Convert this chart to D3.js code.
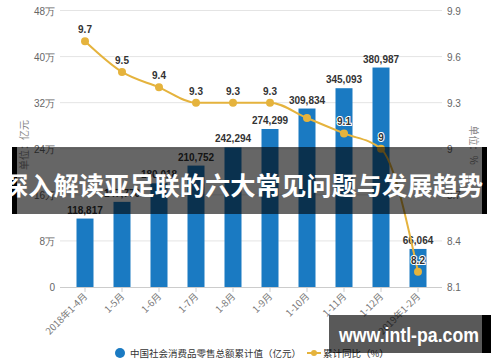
<!DOCTYPE html>
<html>
<head>
<meta charset="utf-8">
<script src="https://cdn.jsdelivr.net/npm/d3@7"></script>
<style>
  body { margin: 0; background: #fff; }
  svg { display: block; font-family: "Liberation Sans", Arial, sans-serif; }
</style>
</head>
<body>
<div id="chart"></div>
<script>
// données
var categories = ["2018年1-4月", "1-5月", "1-6月", "1-7月", "1-8月", "1-9月", "1-10月", "1-11月", "1-12月", "2019年1-2月"];
var totalValues = [118817, 147776, 180018, 210752, 242294, 274299, 309834, 345093, 380987, 66064];
var growthValues = [9.7, 9.5, 9.4, 9.3, 9.3, 9.3, 9.2, 9.1, 9.0, 8.2];
// étiquette de la 9.2 cachée sur l'original (chevauchement)
var growthShown = [true, true, true, true, true, true, false, true, true, true];
var leftTicks = [0, 80000, 160000, 240000, 320000, 400000, 480000];
var rightTicks = [8.1, 8.4, 8.7, 9.0, 9.3, 9.6, 9.9];

var width = 500, height = 362;
var barColor = "#1a7ac2", lineColor = "#e5b33d";

var svg = d3.select("#chart").append("svg")
  .attr("width", width).attr("height", height);

var x = d3.scaleBand().domain(categories).range([66.5, 436.5]).padding(0);
var yL = d3.scaleLinear().domain([0, 480000]).range([287, 10.5]);
var yR = d3.scaleLinear().domain([8.1, 9.9]).range([287, 10.5]);
var cx = d => x(d) + x.bandwidth() / 2;
var barW = 17;

// grille
svg.append("g")
  .selectAll("line")
  .data(leftTicks.slice(1))
  .join("line")
    .attr("x1", 60).attr("x2", 442)
    .attr("y1", d => yL(d)).attr("y2", d => yL(d))
    .attr("stroke", "#e4e4e4");

// axe gauche
svg.append("g")
    .attr("font-size", 10).attr("fill", "#666").attr("text-anchor", "end")
  .selectAll("text")
  .data(leftTicks)
  .join("text")
    .attr("x", 55).attr("y", d => yL(d) + 4)
    .text(d => d == 0 ? "0" : (d / 10000) + "万");

// axe droit
svg.append("g")
    .attr("font-size", 10).attr("fill", "#666")
  .selectAll("text")
  .data(rightTicks)
  .join("text")
    .attr("x", 447).attr("y", d => yR(d) + 4)
    .text(d => d3.format(".1f")(d).replace(/\.0$/, ""));

// titres des axes
svg.append("text")
  .attr("transform", "translate(28,145) rotate(-90)")
  .attr("text-anchor", "middle").attr("font-size", 10).attr("fill", "#888")
  .attr("font-family", "Noto Sans CJK SC")
  .text("单位：亿元");
svg.append("text")
  .attr("transform", "translate(470,145) rotate(90)")
  .attr("text-anchor", "middle").attr("font-size", 10).attr("fill", "#888")
  .attr("font-family", "Noto Sans CJK SC")
  .text("单位：%");

// axe x
svg.append("line")
  .attr("x1", 60).attr("x2", 442).attr("y1", 287.5).attr("y2", 287.5)
  .attr("stroke", "#ccc");
svg.append("g")
  .selectAll("line")
  .data(categories)
  .join("line")
    .attr("x1", d => cx(d)).attr("x2", d => cx(d))
    .attr("y1", 287).attr("y2", 292)
    .attr("stroke", "#ccc");
svg.append("g")
    .attr("font-size", 9.5).attr("fill", "#777").attr("text-anchor", "end")
    .attr("font-family", "Noto Sans CJK SC")
  .selectAll("text")
  .data(categories)
  .join("text")
    .attr("transform", d => `translate(${cx(d) + 3},${297}) rotate(-45)`)
    .text(d => d);

// barres
svg.append("g")
  .selectAll("rect")
  .data(totalValues)
  .join("rect")
    .attr("x", (d, i) => cx(categories[i]) - barW / 2)
    .attr("y", d => yL(d))
    .attr("width", barW)
    .attr("height", d => 287 - yL(d))
    .attr("fill", barColor);

svg.append("g")
    .attr("font-size", 10).attr("font-weight", "bold").attr("fill", "#333")
    .attr("text-anchor", "middle")
  .selectAll("text")
  .data(totalValues)
  .join("text")
    .attr("x", (d, i) => cx(categories[i]))
    .attr("y", d => yL(d) - 5)
    .text(d => d3.format(",")(d));

// courbe
var line = d3.line()
  .x((d, i) => cx(categories[i]))
  .y(d => yR(d))
  .curve(d3.curveMonotoneX);

svg.append("path")
  .datum(growthValues)
  .attr("d", line)
  .attr("fill", "none")
  .attr("stroke", lineColor)
  .attr("stroke-width", 2);

svg.append("g")
  .selectAll("circle")
  .data(growthValues)
  .join("circle")
    .attr("cx", (d, i) => cx(categories[i]))
    .attr("cy", d => yR(d))
    .attr("r", 4)
    .attr("fill", lineColor);

// étiquettes de la courbe (avec halo blanc)
var labelPts = growthValues.map((v, i) => ({ v: v, cat: categories[i] }))
  .filter((d, i) => growthShown[i]);
svg.append("g")
    .attr("font-size", 10).attr("font-weight", "bold").attr("fill", "#333")
    .attr("text-anchor", "middle")
    .attr("stroke", "#fff").attr("stroke-width", 2).attr("paint-order", "stroke")
  .selectAll("text")
  .data(labelPts)
  .join("text")
    .attr("x", d => cx(d.cat))
    .attr("y", d => yR(d.v) - 8)
    .text(d => String(d.v));

// légende
var leg = svg.append("g").attr("font-size", 9.5).attr("fill", "#333")
  .attr("font-family", "Noto Sans CJK SC");
leg.append("circle").attr("cx", 120).attr("cy", 353).attr("r", 5).attr("fill", barColor);
leg.append("text").attr("x", 130).attr("y", 357).text("中国社会消费品零售总额累计值（亿元）");
leg.append("line").attr("x1", 307).attr("x2", 321).attr("y1", 353).attr("y2", 353)
  .attr("stroke", lineColor).attr("stroke-width", 2);
leg.append("circle").attr("cx", 314).attr("cy", 353).attr("r", 3).attr("fill", lineColor);
leg.append("text").attr("x", 323).attr("y", 357).text("累计同比（%）");

// bandeau titre
svg.append("rect").attr("x", 12).attr("y", 147).attr("width", 475).attr("height", 67)
  .attr("fill", "rgba(0,0,0,0.6)");
svg.append("rect").attr("x", 12).attr("y", 147).attr("width", 5).attr("height", 67).attr("fill", "#000");
svg.append("rect").attr("x", 482).attr("y", 147).attr("width", 5).attr("height", 67).attr("fill", "#000");
svg.append("text")
  .attr("x", 3).attr("y", 195)
  .attr("font-family", "Noto Sans CJK SC").attr("font-weight", "bold")
  .attr("font-size", 25).attr("fill", "#fff")
  .attr("textLength", 480).attr("lengthAdjust", "spacingAndGlyphs")
  .text("深入解读亚足联的六大常见问题与发展趋势");

// filigrane url
svg.append("rect").attr("x", 329).attr("y", 315).attr("width", 153).attr("height", 38)
  .attr("fill", "rgba(0,0,0,0.65)");
svg.append("rect").attr("x", 482).attr("y", 315).attr("width", 9).attr("height", 38).attr("fill", "#000");
svg.append("text")
  .attr("x", 339).attr("y", 342)
  .attr("font-weight", "bold").attr("font-size", 20).attr("fill", "#fff")
  .attr("textLength", 140).attr("lengthAdjust", "spacingAndGlyphs")
  .text("www.intl-pa.com");
</script>
</body>
</html>
